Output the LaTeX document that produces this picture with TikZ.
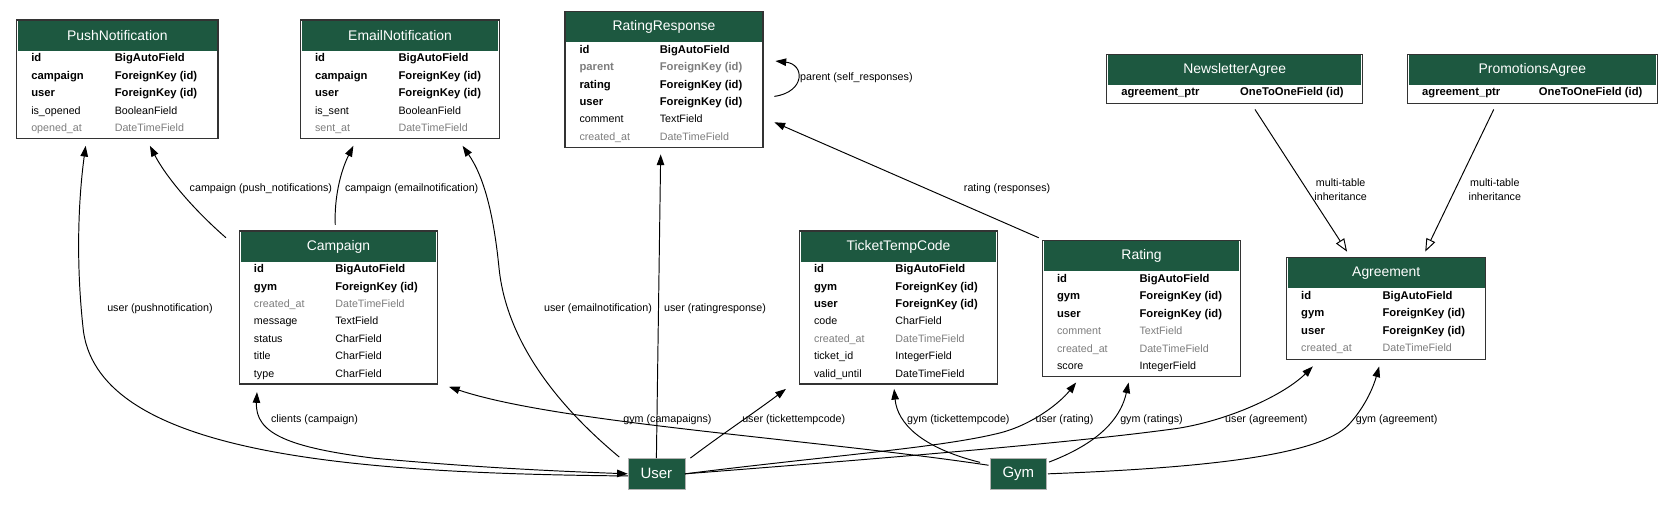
\documentclass[tikz,border=0pt]{standalone}
\usepackage{fontspec}
\setmainfont{Liberation Sans}
\usetikzlibrary{arrows.meta,calc,positioning}
\definecolor{modelgreen}{RGB}{29,88,64}
\definecolor{nullgray}{RGB}{125,125,125}
\tikzset{
  modelbox/.style={draw=black!80,line width=1.2pt,fill=white,inner sep=0pt},
  modelhead/.style={fill=modelgreen,text=white,font=\fontsize{13}{13}\selectfont,inner sep=0pt,minimum height=28pt},
  fieldtext/.style={anchor=base west,inner sep=0pt,font=\fontsize{10}{12}\selectfont},
  fb/.style={font=\fontsize{10.5}{12}\selectfont\bfseries},
  fn/.style={},
  fg/.style={text=nullgray},
  fgb/.style={text=nullgray,font=\fontsize{10.5}{12}\selectfont\bfseries},
  appnode/.style={fill=modelgreen,draw=black!30,text=white,font=\fontsize{14}{14}\selectfont,minimum width=53pt,minimum height=29pt,inner sep=0pt},
  rel/.style={line width=0.9pt,-{Triangle[length=10pt,width=7pt]}},
  relboth/.style={line width=0.9pt,{Triangle[length=10pt,width=7pt]}-{Triangle[length=10pt,width=7pt]}},
  inherit/.style={line width=0.9pt,-{Triangle[open,length=12pt,width=9pt]}},
  rellabel/.style={anchor=west,inner sep=0pt,font=\fontsize{10}{12.5}\selectfont},
}
\newcommand{\modeltable}[8]{%
  \node[modelbox,anchor=north west,minimum width=#4pt,minimum height=#5pt] (#1) at (#2,#3) {};
  \node[modelhead,anchor=north,minimum width=#4pt-2.4pt] at ($(#1.north)+(0,1.2)$) {#7};
  \foreach \fs/\fname/\ftype [count=\i] in {#8} {
    \node[fieldtext,\fs] at ($(#1.north west)+(14,23.3+16.3*\i)$) {\fname};
    \node[fieldtext,\fs] at ($(#1.north west)+(#6,23.3+16.3*\i)$) {\ftype};
  }
}
\begin{document}
\begin{tikzpicture}[x=1pt,y=-1pt]
\useasboundingbox[fill=white] (0,0) rectangle (1568,471);
\modeltable{pushn}{15}{18}{188}{111}{92}{PushNotification}{fb/id/BigAutoField, fb/campaign/{ForeignKey (id)}, fb/user/{ForeignKey (id)}, fn/is\_opened/BooleanField, fg/opened\_at/DateTimeField}
\modeltable{emailn}{280}{18}{186}{111}{92}{EmailNotification}{fb/id/BigAutoField, fb/campaign/{ForeignKey (id)}, fb/user/{ForeignKey (id)}, fn/is\_sent/BooleanField, fg/sent\_at/DateTimeField}
\modeltable{ratingresp}{527}{10}{185}{127}{89}{RatingResponse}{fb/id/BigAutoField, fgb/parent/{ForeignKey (id)}, fb/rating/{ForeignKey (id)}, fb/user/{ForeignKey (id)}, fn/comment/TextField, fg/created\_at/DateTimeField}
\modeltable{newsagree}{1033}{50}{239}{46}{125}{NewsletterAgree}{fb/agreement\_ptr/{OneToOneField (id)}}
\modeltable{promoagree}{1314}{50}{233}{46}{123}{PromotionsAgree}{fb/agreement\_ptr/{OneToOneField (id)}}
\modeltable{campaign}{223}{215}{185}{143}{90}{Campaign}{fb/id/BigAutoField, fb/gym/{ForeignKey (id)}, fg/created\_at/DateTimeField, fn/message/TextField, fn/status/CharField, fn/title/CharField, fn/type/CharField}
\modeltable{ticketcode}{746}{215}{185}{143}{90}{TicketTempCode}{fb/id/BigAutoField, fb/gym/{ForeignKey (id)}, fb/user/{ForeignKey (id)}, fn/code/CharField, fg/created\_at/DateTimeField, fn/ticket\_id/IntegerField, fn/valid\_until/DateTimeField}
\modeltable{rating}{973}{224}{185}{127}{91}{Rating}{fb/id/BigAutoField, fb/gym/{ForeignKey (id)}, fb/user/{ForeignKey (id)}, fg/comment/TextField, fg/created\_at/DateTimeField, fn/score/IntegerField}
\modeltable{agreement}{1201}{240}{186}{95}{90}{Agreement}{fb/id/BigAutoField, fb/gym/{ForeignKey (id)}, fb/user/{ForeignKey (id)}, fg/created\_at/DateTimeField}
\node[appnode] (user) at (613,442.5) {User};
\node[appnode] (gym) at (951,442.5) {Gym};
\draw[rel] ($(user.west)+(0,2)$) .. controls (330,442) and (95,425) .. (78,310) .. controls (70,240) and (74,180) .. ($(pushn.south west)+(65,6)$);
\draw[rel] ($(campaign.north west)+(-12,7)$) .. controls (180,195) and (155,165) .. ($(pushn.south west)+(125,6)$);
\draw[rel] ($(campaign.north)+(-3,-5)$) .. controls (312,185) and (318,160) .. ($(emailn.south west)+(50,6)$);
\draw[rel] ($(user.north west)+(-8,-1)$) .. controls (510,370) and (472,310) .. (466,250) .. controls (461,200) and (452,165) .. ($(emailn.south west)+(152,6)$);
\draw[rel] (user.north) -- ($(ratingresp.south west)+(90,6)$);
\draw[rel] ($(rating.north west)+(-3,-2)$) -- ($(ratingresp.south east)+(10,-24)$);
\draw[rel] ($(ratingresp.north east)+(10,80)$) .. controls (752,86) and (752,60) .. ($(ratingresp.north east)+(11,47)$);
\draw[rel] ($(gym.west)+(-1,-8)$) .. controls (760,410) and (520,395) .. ($(campaign.south east)+(10,2)$);
\draw[relboth] ($(campaign.south west)+(17,7)$) .. controls (238,405) and (270,418) .. (350,428) .. controls (450,437) and (520,440) .. (user.west);
\draw[rel] ($(user.north east)+(5,0)$) .. controls (675,405) and (705,385) .. ($(ticketcode.south west)+(-12,4)$);
\draw[rel] ($(gym.north west)+(-9,4)$) .. controls (860,418) and (838,395) .. ($(ticketcode.south west)+(89,4)$);
\draw[rel] (user.east) .. controls (780,425) and (880,418) .. (935,404) .. controls (965,396) and (990,376) .. ($(rating.south west)+(32,5)$);
\draw[rel] ($(gym.east)+(2,-11)$) .. controls (1015,418) and (1045,398) .. ($(rating.south west)+(81,5)$);
\draw[rel] (user.east) .. controls (800,430) and (1000,414) .. (1100,400) .. controls (1150,392) and (1200,368) .. ($(agreement.south west)+(25,6)$);
\draw[rel] ($(gym.east)+(1,0)$) .. controls (1150,436) and (1238,422) .. (1261,395) .. controls (1276,378) and (1283,360) .. ($(agreement.south west)+(87,6)$);
\draw[inherit] ($(newsagree.south west)+(139,5)$) -- ($(agreement.north west)+(57,-5)$);
\draw[inherit] ($(promoagree.south west)+(81,5)$) -- ($(agreement.north west)+(130,-5)$);
\node[rellabel] (lbl-pushuser) at (100,288) {user (pushnotification)};
\node[rellabel] (lbl-pushcamp) at (177,176) {campaign (push\_notifications)};
\node[rellabel] (lbl-emailcamp) at (322,176) {campaign (emailnotification)};
\node[rellabel] (lbl-emailuser) at (508,288) {user (emailnotification)};
\node[rellabel] (lbl-respuser) at (620,288) {user (ratingresponse)};
\node[rellabel] (lbl-resprating) at (900,176) {rating (responses)};
\node[rellabel] (lbl-respparent) at (747,73) {parent (self\_responses)};
\node[rellabel] (lbl-clients) at (253,392) {clients (campaign)};
\node[rellabel] (lbl-campgym) at (582,392) {gym (camapaigns)};
\node[rellabel] (lbl-ticketuser) at (693,392) {user (tickettempcode)};
\node[rellabel] (lbl-ticketgym) at (847,392) {gym (tickettempcode)};
\node[rellabel] (lbl-ratinguser) at (967,392) {user (rating)};
\node[rellabel] (lbl-ratinggym) at (1046,392) {gym (ratings)};
\node[rellabel] (lbl-agreeuser) at (1144,392) {user (agreement)};
\node[rellabel] (lbl-agreegym) at (1266,392) {gym (agreement)};
\node[rellabel,anchor=center,align=center] (lbl-newsinh) at (1252,177) {multi-table\\inheritance};
\node[rellabel,anchor=center,align=center] (lbl-promoinh) at (1396,177) {multi-table\\inheritance};
\end{tikzpicture}
\end{document}
